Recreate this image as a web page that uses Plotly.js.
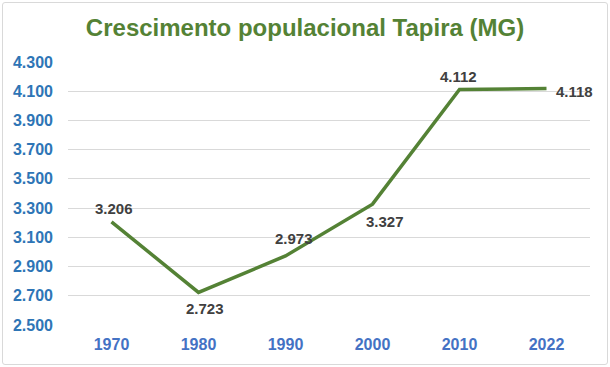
<!DOCTYPE html>
<html>
<head>
<meta charset="utf-8">
<script src="https://cdn.plot.ly/plotly-3.0.1.min.js"></script>
<style>
html,body{margin:0;padding:0;background:#fff;}
#chart{width:610px;height:367px;position:relative;}
#frame{position:absolute;left:2px;top:2px;width:606px;height:363px;border:1px solid #d9d9d9;box-sizing:border-box;pointer-events:none;border-radius:3px;}
</style>
</head>
<body>
<div id="chart"></div>
<div id="frame"></div>
<script>
const years = ['1970','1980','1990','2000','2010','2022'];
const population = [3206, 2723, 2973, 3327, 4112, 4118];
const yTicks = [2500, 2700, 2900, 3100, 3300, 3500, 3700, 3900, 4100, 4300];

// label placement (pixel offsets from each point), styling only
const labelShift = [[2,13],[6,-16],[8,17],[12,-17],[-1,13],[28,-3]];

const font = 'Liberation Sans, Arial, sans-serif';
const fmt = v => String(v).replace(/\B(?=(\d{3})+(?!\d))/g, '.');

const annotations = years.map((yr, i) => ({
  x: i, y: population[i], xref: 'x', yref: 'y',
  text: fmt(population[i]),
  showarrow: false,
  xanchor: 'center', yanchor: 'middle',
  xshift: labelShift[i][0], yshift: labelShift[i][1],
  font: {family: font, size: 15, color: '#404040', weight: 'bold'}
}));

Plotly.newPlot('chart', [{
  type: 'scatter',
  mode: 'lines',
  x: years,
  y: population,
  line: {color: '#548235', width: 3.5},
  cliponaxis: false,
  hoverinfo: 'skip'
}], {
  width: 610, height: 367,
  separators: ',.',
  paper_bgcolor: '#ffffff',
  plot_bgcolor: '#ffffff',
  margin: {l: 68, r: 20, t: 62, b: 42},
  showlegend: false,
  annotations: annotations,
  title: {
    text: 'Crescimento populacional Tapira (MG)',
    font: {family: font, size: 24, color: '#548235', weight: 'bold'},
    x: 0.5, xanchor: 'center',
    y: 1 - 28/367, yanchor: 'middle', yref: 'container'
  },
  xaxis: {
    type: 'category',
    range: [-0.5, 5.5],
    showgrid: false, zeroline: false, showline: false,
    ticks: '',
    tickfont: {family: font, size: 16, color: '#4472C4', weight: 'bold'},
    ticklabelstandoff: 8
  },
  yaxis: {
    range: [2500, 4300],
    tickvals: yTicks,
    tickformat: ',.0f',
    showgrid: true, gridcolor: '#d9d9d9', gridwidth: 1,
    zeroline: false, showline: false,
    ticks: '',
    tickfont: {family: font, size: 16, color: '#2E75B6', weight: 'bold'},
    ticklabelstandoff: 14
  }
}, {displayModeBar: false, staticPlot: true});
</script>
</body>
</html>
